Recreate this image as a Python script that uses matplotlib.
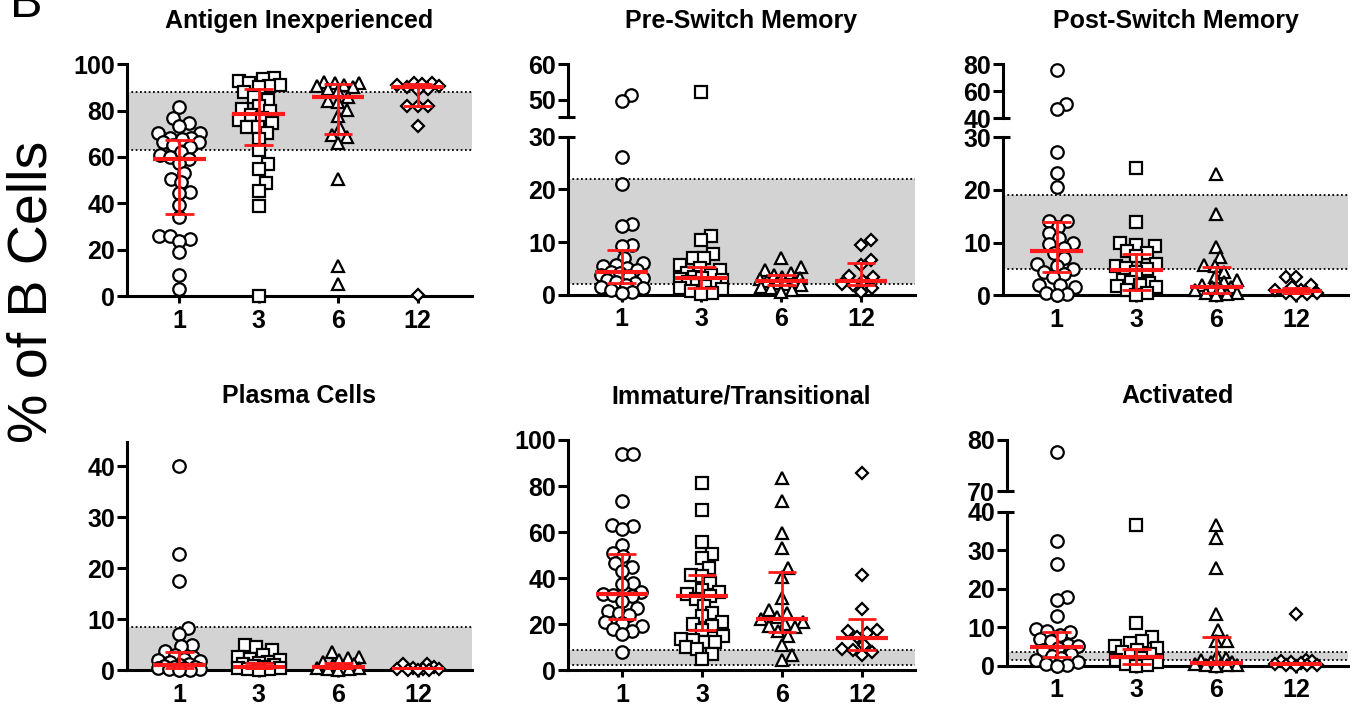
import matplotlib.pyplot as plt
import numpy as np

plt.rcParams['font.family'] = ['Liberation Sans', 'DejaVu Sans']

W, H = 1360, 706

months = ['1', '3', '6', '12']

# ---- data (% of B cells) ----
naive = [
    [81.7, 77, 74.8, 73.3, 70.5, 70.5, 68.3, 68, 67.6, 66.6, 66.6, 65, 64.4, 62, 60.8, 60.1,
     59, 57.5, 53.3, 50.7, 49, 44.7, 44.5, 39.2, 34.1, 26.1, 25.8, 24.4, 23.8, 19, 9.2, 3],
    [94, 93.5, 93, 92, 91, 90.5, 90, 88, 86, 84.5, 82, 80.5, 80, 78, 77, 76, 74.5, 73, 72.8,
     70.5, 67.6, 63, 56.8, 54.6, 48.8, 45.4, 38.9, 0],
    [92.5, 92, 91.8, 91, 90.5, 90, 89.5, 88.5, 86, 84, 83.9, 80.3, 77.7, 72.3, 69.5, 68.7,
     65.9, 50.7, 12.8, 5],
    [92, 91.8, 91.5, 91, 90.5, 90, 89.5, 88.9, 82, 82, 82, 73.5, 0.5],
]
naive_med = [59, 78.5, 86, 90]
naive_q1 = [35.5, 65, 70, 82]
naive_q3 = [67.5, 89.5, 91.5, 91.5]

preswitch = [
    [51.3, 49.6, 26.2, 21.1, 13.5, 13.0, 9.4, 9.2, 7.0, 6.0, 5.6, 5.5, 5.0, 4.6, 4.4, 4.2,
     3.8, 3.5, 3.2, 2.8, 2.5, 2.2, 1.8, 1.5, 1.2, 0.9, 0.6, 0.3],
    [52.1, 11.2, 10.4, 7.8, 7.0, 6.9, 5.6, 5.0, 4.6, 4.1, 3.7, 3.4, 3.1, 3.0, 2.7, 2.4, 2.1,
     1.9, 1.6, 1.3, 1.0, 0.7, 0.4, 0.1],
    [6.9, 5.2, 4.6, 4.2, 3.8, 3.4, 3.1, 2.9, 2.6, 2.4, 2.2, 2.0, 1.8, 1.5, 1.2, 0.9, 0.5],
    [10.3, 9.4, 6.5, 5.6, 3.6, 3.3, 2.6, 2.1, 1.8, 1.2, 0.6],
]
preswitch_med = [4.3, 3.1, 2.6, 2.6]
preswitch_q1 = [2.3, 1.3, 1.8, 1.8]
preswitch_q3 = [8.5, 5.3, 3.8, 6.0]

postswitch = [
    [76, 50.2, 46.7, 27.3, 23.2, 20.6, 14.1, 14.1, 13.0, 11.8, 10.8, 10.0, 9.8, 9.0, 8.0, 7.0,
     6.0, 5.5, 5.0, 4.5, 4.0, 3.5, 2.0, 2.0, 1.5, 0.5, 0.2, 0.1],
    [24.2, 13.9, 10.0, 9.5, 9.3, 8.5, 8.0, 7.5, 6.0, 5.5, 5.2, 5.0, 4.5, 3.0, 2.5, 2.4, 2.0,
     1.8, 1.5, 1.0, 0.5, 0.1],
    [23.0, 15.5, 9.2, 7.2, 5.8, 5.5, 4.5, 3.5, 3.0, 2.5, 2.0, 1.5, 1.5, 1.0, 1.0, 0.5, 0.5,
     0.3, 0.1],
    [3.5, 3.5, 2.0, 1.5, 1.0, 1.0, 0.5, 0.5, 0.3, 0.1],
]
postswitch_med = [8.4, 4.8, 1.5, 0.8]
postswitch_q1 = [4.5, 1.0, 0.5, 0.3]
postswitch_q3 = [13.9, 7.8, 5.3, 1.3]

plasma = [
    [40.1, 22.7, 17.4, 8.3, 7.1, 4.9, 4.7, 3.7, 3.0, 2.5, 2.2, 2.0, 1.7, 1.5, 1.2, 1.0, 0.8,
     0.6, 0.5, 0.4, 0.3, 0.2, 0.1, 0.05, 0.0],
    [4.9, 4.6, 3.9, 3.0, 2.5, 2.1, 1.9, 1.6, 1.4, 1.1, 0.9, 0.7, 0.5, 0.4, 0.3, 0.2, 0.1, 0.0],
    [3.5, 2.5, 2.3, 1.9, 1.5, 1.1, 0.9, 0.6, 0.4, 0.3, 0.2, 0.1, 0.0],
    [1.2, 1.1, 0.5, 0.3, 0.2, 0.15, 0.1, 0.05, 0.02, 0.0],
]
plasma_med = [1.0, 0.5, 0.5, 0.1]
plasma_q1 = [0.3, 0.1, 0.1, 0.0]
plasma_q3 = [3.5, 1.3, 1.3, 0.2]

immature = [
    [94.0, 94.0, 73.6, 63.0, 62.5, 61.5, 54.5, 51.0, 49.5, 46.5, 45.0, 43.0, 38.0, 37.5, 34.0,
     33.0, 32.5, 32.0, 30.0, 27.0, 25.5, 25.0, 24.0, 21.0, 20.5, 19.0, 18.0, 17.0, 15.5, 8.0],
    [81.2, 69.6, 55.5, 50.5, 48.5, 44.5, 41.5, 41.0, 38.0, 35.0, 34.0, 33.0, 32.0, 31.0, 28.0,
     25.0, 23.5, 21.0, 20.0, 19.0, 17.5, 15.0, 13.5, 13.0, 12.0, 12.0, 10.0, 9.0, 7.0, 5.0],
    [83.5, 73.5, 59.5, 53.0, 44.5, 40.5, 31.5, 26.0, 25.0, 23.0, 22.0, 21.0, 20.0, 19.0, 18.5,
     17.0, 15.0, 11.0, 6.5, 4.5],
    [85.5, 41.5, 26.5, 17.5, 17.0, 16.0, 14.5, 11.0, 9.0, 8.5, 8.0, 6.5],
]
immature_med = [33, 32, 22, 14]
immature_q1 = [22, 17.5, 16.5, 8.5]
immature_q3 = [50.5, 41.5, 42.5, 22]

activated = [
    [77.7, 32.5, 26.5, 17.8, 17.0, 12.8, 9.5, 9.0, 8.8, 8.0, 7.0, 6.5, 5.5, 5.0, 4.5, 4.0,
     3.0, 2.5, 2.0, 1.5, 1.0, 0.5, 0.2, 0.0],
    [36.5, 11.0, 7.5, 6.5, 6.0, 5.0, 4.5, 4.0, 3.5, 3.0, 2.5, 2.0, 1.5, 1.0, 0.5, 0.3, 0.0],
    [36.5, 33.2, 25.5, 13.5, 9.2, 6.5, 6.5, 2.5, 2.0, 1.5, 1.0, 1.0, 0.5, 0.5, 0.3, 0.2, 0.1,
     0.0],
    [13.5, 1.5, 1.2, 1.2, 1.0, 0.8, 0.5, 0.3, 0.2, 0.1, 0.0],
]
activated_med = [4.8, 2.2, 0.8, 0.5]
activated_q1 = [2.3, 0.5, 0.3, 0.2]
activated_q3 = [8.8, 4.3, 7.5, 0.8]

# healthy reference ranges (grey bands)
bands = {
    'Antigen Inexperienced': (63, 88),
    'Pre-Switch Memory': (2, 22),
    'Post-Switch Memory': (5, 19),
    'Plasma Cells': (0, 8.5),
    'Immature/Transitional': (2, 8.5),
    'Activated': (1.5, 3.5),
}

markers = ['o', 's', '^', 'D']
msizes = [9, 8, 8.5, 6.2]
RED = '#ff1a1a'
LW = 2.2


def add_ax(fig, left, right, top, bottom):
    return fig.add_axes([left / W, 1 - bottom / H, (right - left) / W, (bottom - top) / H])


def swarm(values, ppu_y, ppu_x, diam=10.5, maxw=21):
    # simple beeswarm in pixel space, width capped like Prism's scatter
    vals = np.asarray(values, float)
    offs = np.zeros(len(vals))
    cands = np.array(sorted(np.arange(-maxw, maxw + 0.5, 0.5), key=lambda c: (abs(c), -c)))
    px, py = [], []
    for i in np.argsort(vals):
        y = vals[i] * ppu_y
        if px:
            d = np.sqrt((cands[:, None] - np.array(px)[None, :]) ** 2 +
                        (y - np.array(py)[None, :]) ** 2).min(axis=1)
            ok = np.where(d >= diam)[0]
            c = cands[ok[0]] if len(ok) else cands[np.argmax(d)]
        else:
            c = 0.0
        px.append(c)
        py.append(y)
        offs[i] = c / ppu_x
    return offs


def style_axis(ax, fs=18):
    for s in ['top', 'right']:
        ax.spines[s].set_visible(False)
    ax.spines['left'].set_linewidth(LW)
    ax.spines['bottom'].set_linewidth(LW)
    ax.tick_params(axis='y', length=7, width=LW, pad=1.5, labelsize=fs)
    ax.tick_params(axis='x', length=5, width=LW, pad=4, labelsize=fs)
    for lab in ax.get_yticklabels() + ax.get_xticklabels():
        lab.set_fontweight('bold')


def break_tick(ax, y, ax_w_px):
    ax.plot([0, 7 / ax_w_px], [y, y], color='black', lw=LW, clip_on=False,
            transform=ax.get_yaxis_transform(), solid_capstyle='butt')


def draw_panel(fig, title, groups, med, q1, q3, left, right, t1, t4, title_y,
               lower, upper=None):
    unit = (t4 - t1) / 3.0
    xlim = (1 - (t1 - left) / unit, 4 + (right - t4) / unit)
    ax_w = right - left
    ltop, lbot, lhi, lticks = lower
    ax = add_ax(fig, left, right, ltop, lbot)
    ax.set_xlim(*xlim)
    ax.set_ylim(0, lhi)
    ppu_low = (lbot - ltop) / lhi

    axu = None
    if upper is not None:
        utop, ubot, ulo, uhi, uticks, ulabels = upper
        axu = add_ax(fig, left, right, utop, ubot)
        axu.set_xlim(*xlim)
        axu.set_ylim(ulo, uhi)
        ppu_up = (ubot - utop) / (uhi - ulo)

    lo, hi = bands[title]
    ax.axhspan(lo, hi, color='#d3d3d3', lw=0, zorder=0)
    ax.axhline(lo, color='black', ls=(0, (1, 1.4)), lw=1.3, zorder=1)
    ax.axhline(hi, color='black', ls=(0, (1, 1.4)), lw=1.3, zorder=1)

    for k, vals in enumerate(groups):
        vals = np.asarray(vals, float)
        x0 = k + 1
        low = vals[vals <= lhi]
        xs = x0 + swarm(low, ppu_low, unit)
        ax.plot(xs, low, ls='none', marker=markers[k], ms=msizes[k], mfc='white',
                mec='black', mew=1.6, clip_on=False, zorder=3)
        if axu is not None:
            up = vals[vals > lhi]
            if len(up):
                xu = x0 + swarm(up - ulo, ppu_up, unit)
                axu.plot(xu, up, ls='none', marker=markers[k], ms=msizes[k], mfc='white',
                         mec='black', mew=1.6, clip_on=False, zorder=3)
        ax.plot([x0 - 0.33, x0 + 0.33], [med[k], med[k]], color=RED, lw=3, zorder=5,
                solid_capstyle='butt')
        ax.plot([x0, x0], [q1[k], q3[k]], color=RED, lw=2, zorder=5)
        for q in (q1[k], q3[k]):
            ax.plot([x0 - 0.18, x0 + 0.18], [q, q], color=RED, lw=2, zorder=5,
                    solid_capstyle='butt')

    ax.set_xticks([1, 2, 3, 4])
    ax.set_xticklabels(months)
    ax.set_yticks(lticks)
    ax.set_yticklabels([str(t) for t in lticks])
    style_axis(ax)

    if axu is not None:
        axu.set_yticks(uticks)
        axu.set_yticklabels(ulabels)
        axu.set_xticks([])
        style_axis(axu)
        axu.spines['bottom'].set_visible(False)
        axu.patch.set_visible(False)
        break_tick(ax, lhi, ax_w)
        break_tick(axu, ulo, ax_w)

    fig.text((left + right) / 2 / W, 1 - title_y / H, title, ha='center', va='baseline',
             fontsize=18, fontweight='bold')


fig = plt.figure(figsize=(W / 100, H / 100), dpi=100)

draw_panel(fig, 'Antigen Inexperienced', naive, naive_med, naive_q1, naive_q3,
           127, 472, 179.3, 417.5, 28,
           (64.3, 296, 100, [0, 20, 40, 60, 80, 100]))
draw_panel(fig, 'Pre-Switch Memory', preswitch, preswitch_med, preswitch_q1, preswitch_q3,
           568, 915, 621.7, 861, 28,
           (136.7, 294.7, 30, [0, 10, 20, 30]),
           (64.3, 116.7, 45.3, 60, [45.3, 50, 60], ['', '50', '60']))
draw_panel(fig, 'Post-Switch Memory', postswitch, postswitch_med, postswitch_q1, postswitch_q3,
           1003, 1348, 1056.7, 1296, 28,
           (137.3, 295.3, 30, [0, 10, 20, 30]),
           (64.3, 118, 40, 80, [40, 60, 80], ['40', '60', '80']))
draw_panel(fig, 'Plasma Cells', plasma, plasma_med, plasma_q1, plasma_q3,
           127, 472, 179.3, 418, 403,
           (441.7, 670, 44.8, [0, 10, 20, 30, 40]))
draw_panel(fig, 'Immature/Transitional', immature, immature_med, immature_q1, immature_q3,
           568, 915, 622, 862, 403,
           (440, 670, 100, [0, 20, 40, 60, 80, 100]))
draw_panel(fig, 'Activated', activated, activated_med, activated_q1, activated_q3,
           1007, 1348, 1056.7, 1296, 403,
           (511.7, 665.7, 40, [0, 10, 20, 30, 40]),
           (440, 491.3, 70, 80, [70, 80], ['70', '80']))

fig.text(33 / W, 1 - 292 / H, '% of B Cells', rotation=90, ha='center', va='center',
         fontsize=40)
fig.text(10 / W, 1 - 17 / H, 'B', ha='left', va='baseline', fontsize=35)

fig.savefig('out.png', dpi=100)
